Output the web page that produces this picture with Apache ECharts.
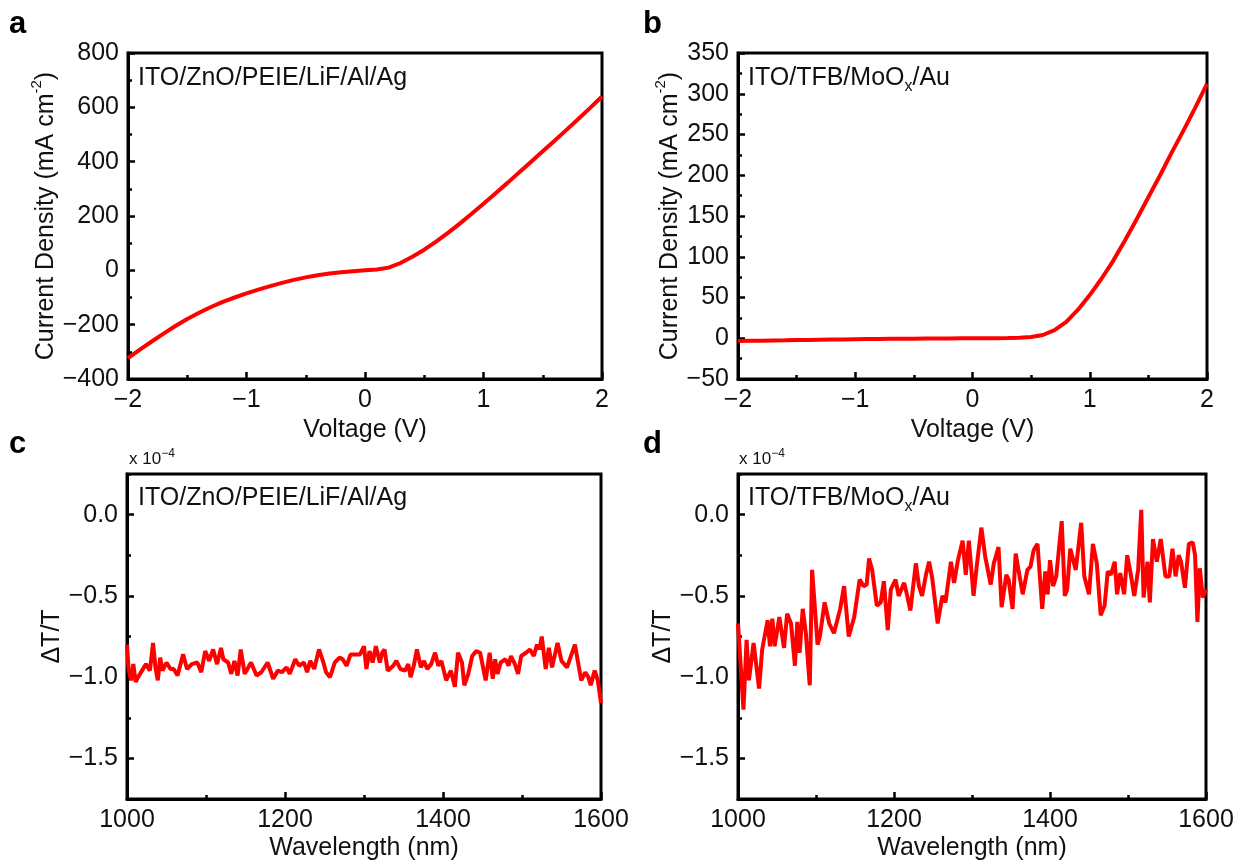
<!DOCTYPE html>
<html>
<head>
<meta charset="utf-8">
<script src="https://cdn.jsdelivr.net/npm/echarts@6/dist/echarts.min.js"></script>
<style>
html,body{margin:0;padding:0;background:#fff;}
#chart{width:1244px;height:866px;}
</style>
</head>
<body>
<div id="chart"></div>
<script>
// ---------- DATA ----------
// Panel a: ITO/ZnO/PEIE/LiF/Al/Ag  J-V
const voltageA = [-2.0,-1.9,-1.8,-1.7,-1.6,-1.5,-1.4,-1.3,-1.2,-1.1,-1.0,-0.9,-0.8,-0.7,-0.6,-0.5,-0.4,-0.3,-0.2,-0.1,0.0,0.1,0.2,0.3,0.4,0.5,0.6,0.7,0.8,0.9,1.0,1.1,1.2,1.3,1.4,1.5,1.6,1.7,1.8,1.9,2.0];
const currentA = [-323,-292,-262,-233,-205,-179,-156,-135,-116,-100,-85,-71,-58,-46,-35,-26,-18,-12,-7,-3,0,3,10,27,50,76,106,138,172,208,245,283,321,360,399,438,477,517,557,598,640];

// Panel b: ITO/TFB/MoOx/Au  J-V
const voltageB = [-2.0,-1.9,-1.8,-1.7,-1.6,-1.5,-1.4,-1.3,-1.2,-1.1,-1.0,-0.9,-0.8,-0.7,-0.6,-0.5,-0.4,-0.3,-0.2,-0.1,0.0,0.1,0.2,0.3,0.4,0.5,0.6,0.7,0.8,0.9,1.0,1.1,1.2,1.3,1.4,1.5,1.6,1.7,1.8,1.9,2.0];
const currentB = [-3.5,-3.2,-3.0,-2.7,-2.5,-2.2,-2.0,-1.8,-1.6,-1.4,-1.2,-1.0,-0.9,-0.7,-0.6,-0.5,-0.4,-0.3,-0.2,-0.1,0.0,0.05,0.1,0.2,0.5,1.5,4,10,20,35,53,73,95,120,146,173,200,228,255,283,312];

// Panel c: dT/T spectrum (x 1e-4), ITO/ZnO/PEIE/LiF/Al/Ag
const wavelengthC = [1000,1002,1005,1008,1011,1014,1019,1024,1029,1033,1036,1039,1042,1045,1050,1055,1059,1064,1071,1076,1082,1089,1094,1099,1104,1109,1114,1119,1122,1128,1132,1136,1140,1144,1149,1157,1164,1170,1178,1185,1191,1196,1202,1206,1213,1218,1224,1228,1232,1237,1243,1248,1252,1257,1263,1269,1273,1278,1283,1288,1295,1300,
  1303,1307,1311,1315,1320,1323,1326,1330,1337,1341,1346,1352,1356,1359,1363,1367,1372,1376,1380,1385,1390,1394,1398,1404,1410,1415,1419,1424,1427,1432,1437,1442,1447,1454,1459,1463,1466,1469,1473,1479,1483,1486,1491,1495,1499,1505,1510,1515,1519,1522,1525,1530,1534,1538,1545,1550,1557,1567,1575,1580,1584,1587,1592,1596,1600];
const deltaC = [-0.80,-0.95,-1.02,-0.92,-1.03,-1.00,-0.96,-0.92,-0.96,-0.79,-0.94,-1.02,-0.88,-0.96,-0.91,-0.95,-0.95,-0.99,-0.86,-0.95,-0.92,-0.91,-0.97,-0.84,-0.90,-0.83,-0.92,-0.82,-0.89,-0.91,-0.98,-0.90,-0.99,-0.83,-0.98,-0.91,-0.99,-0.97,-0.91,-1.01,-0.96,-0.97,-0.94,-0.98,-0.89,-0.93,-0.91,-0.97,-0.90,-0.95,-0.83,-0.90,-0.97,-1.00,-0.91,-0.88,-0.89,-0.93,-0.86,-0.86,-0.86,-0.81,
  -0.95,-0.84,-0.91,-0.81,-0.91,-0.85,-0.83,-0.96,-0.93,-0.90,-0.95,-0.96,-0.92,-1.00,-0.93,-0.83,-0.94,-0.90,-0.95,-0.92,-0.85,-0.93,-0.90,-1.02,-0.96,-1.06,-0.85,-0.91,-1.05,-0.98,-0.87,-0.84,-0.85,-1.02,-0.85,-1.01,-0.89,-0.98,-0.91,-0.89,-0.93,-0.87,-0.92,-0.98,-0.87,-0.85,-0.83,-0.87,-0.80,-0.83,-0.75,-0.95,-0.82,-0.94,-0.79,-0.90,-0.94,-0.80,-1.02,-0.97,-1.00,-1.05,-0.96,-1.02,-1.16];

// Panel d: dT/T spectrum (x 1e-4), ITO/TFB/MoOx/Au
const wavelengthD = [1000,1007,1011,1014,1020,1027,1031,1038,1041,1044,1047,1053,1059,1063,1068,1073,1076,1079,1083,1087,1092,1095,1102,1105,1111,1117,1123,1131,1136,1142,1149,1156,1161,1165,1168,1172,1178,1183,1187,1192,1196,1202,1206,1213,1217,1221,1228,1232,1236,1241,1245,1249,1256,1262,1266,1273,1277,1282,1288,1292,1296,1302,
  1306,1312,1317,1324,1328,1334,1338,1344,1347,1352,1356,1365,1371,1375,1379,1384,1390,1394,1397,1400,1404,1408,1415,1419,1422,1426,1433,1440,1444,1450,1455,1460,1465,1470,1474,1478,1483,1486,1490,1495,1499,1504,1508,1513,1517,1520,1525,1528,1532,1537,1542,1548,1553,1557,1561,1565,1568,1573,1578,1583,1586,1589,1592,1596,1600];
const deltaD = [-0.67,-1.20,-0.77,-1.02,-0.79,-1.07,-0.83,-0.65,-0.81,-0.64,-0.81,-0.63,-0.82,-0.61,-0.67,-0.93,-0.66,-0.85,-0.58,-0.73,-1.05,-0.34,-0.80,-0.75,-0.54,-0.67,-0.73,-0.58,-0.44,-0.75,-0.63,-0.40,-0.44,-0.43,-0.27,-0.34,-0.56,-0.54,-0.41,-0.71,-0.46,-0.40,-0.50,-0.42,-0.50,-0.59,-0.30,-0.44,-0.50,-0.37,-0.29,-0.39,-0.67,-0.50,-0.54,-0.29,-0.42,-0.28,-0.16,-0.37,-0.16,-0.50,
  -0.32,-0.08,-0.26,-0.43,-0.30,-0.20,-0.57,-0.37,-0.40,-0.58,-0.24,-0.49,-0.34,-0.32,-0.22,-0.18,-0.58,-0.35,-0.49,-0.28,-0.44,-0.38,-0.04,-0.50,-0.46,-0.21,-0.34,-0.05,-0.38,-0.49,-0.18,-0.30,-0.62,-0.56,-0.35,-0.37,-0.29,-0.49,-0.36,-0.49,-0.25,-0.38,-0.50,-0.34,0.03,-0.51,-0.29,-0.54,-0.15,-0.29,-0.15,-0.38,-0.38,-0.21,-0.38,-0.25,-0.29,-0.45,-0.18,-0.17,-0.25,-0.66,-0.33,-0.51,-0.46];

// Tick values
const majorTicksCD = [-1.5, -1.0, -0.5, 0.0];
const minorTicksCD = [-1.75, -1.25, -0.75, -0.25, 0.25];

// ---------- STYLE ----------
const FONT = '"Liberation Sans", Arial, Helvetica, sans-serif';
const FS = 25;
const TXT = '#111';
const RED = '#ff0000';
const minus = s => String(s).replace('-', '\u2212');

function pairs(xs, ys) { return xs.map((x, i) => [x, ys[i]]); }

const grids = [
  {left: 128, top: 53, width: 474, height: 326},
  {left: 738, top: 53, width: 469, height: 326},
  {left: 127, top: 474, width: 474, height: 325},
  {left: 738, top: 474, width: 468, height: 325}
].map(g => Object.assign({show: true, borderColor: '#000', borderWidth: 3, backgroundColor: 'transparent'}, g));

const nameStyle = {
  fontFamily: FONT, fontSize: FS, color: TXT,
  rich: {
    t: {fontFamily: FONT, fontSize: FS, color: TXT, lineHeight: 33},
    s: {fontFamily: FONT, fontSize: 15, color: TXT, lineHeight: 15, verticalAlign: 'top'}
  }
};

function xAxisCfg(gridIndex, min, max, interval, name, nameGap, fmt) {
  return {
    type: 'value', gridIndex, min, max, interval, name,
    nameLocation: 'middle', nameGap, nameTextStyle: nameStyle,
    axisLine: {show: true, onZero: false, lineStyle: {color: '#000', width: 3}},
    axisTick: {show: true, inside: true, length: 7, lineStyle: {color: '#000', width: 2.5}},
    minorTick: {show: true, splitNumber: 2, length: 4, lineStyle: {color: '#000', width: 2.5}},
    axisLabel: {fontFamily: FONT, fontSize: FS, color: TXT, margin: 9, formatter: fmt, hideOverlap: false},
    splitLine: {show: false}, minorSplitLine: {show: false}
  };
}

function yAxisCfg(gridIndex, min, max, interval, name, nameGap, fmt) {
  return {
    type: 'value', gridIndex, position: 'left', min, max, interval, name,
    nameLocation: 'middle', nameGap, nameTextStyle: nameStyle,
    axisLine: {show: true, onZero: false, lineStyle: {color: '#000', width: 3}},
    axisTick: {show: true, inside: true, length: 7, lineStyle: {color: '#000', width: 2.5}},
    minorTick: {show: true, splitNumber: 2, length: 4, lineStyle: {color: '#000', width: 2.5}},
    axisLabel: {fontFamily: FONT, fontSize: FS, color: TXT, margin: 9, formatter: fmt, hideOverlap: false},
    splitLine: {show: false}, minorSplitLine: {show: false}
  };
}

function dtMainAxis(gridIndex, nameGap) {
  return {
    type: 'value', gridIndex, position: 'left', min: -1.75, max: 0.25,
    name: 'ΔT/T', nameLocation: 'middle', nameGap, nameTextStyle: nameStyle,
    axisLine: {show: true, onZero: false, lineStyle: {color: '#000', width: 3}},
    axisTick: {show: true, inside: true, length: 7, customValues: majorTicksCD, lineStyle: {color: '#000', width: 2.5}},
    axisLabel: {fontFamily: FONT, fontSize: FS, color: TXT, margin: 9, customValues: majorTicksCD,
      formatter: v => minus(Number(v).toFixed(1)), hideOverlap: false},
    splitLine: {show: false}
  };
}
function dtMinorAxis(gridIndex) {
  return {
    type: 'value', gridIndex, position: 'left', min: -1.75, max: 0.25,
    axisLine: {show: false, onZero: false},
    axisTick: {show: true, inside: true, length: 4, customValues: minorTicksCD, lineStyle: {color: '#000', width: 2.5}},
    axisLabel: {show: false},
    splitLine: {show: false}
  };
}

const xAxes = [
  xAxisCfg(0, -2, 2, 1, 'Voltage (V)', 39, v => minus(v)),
  xAxisCfg(1, -2, 2, 1, 'Voltage (V)', 39, v => minus(v)),
  xAxisCfg(2, 1000, 1600, 200, 'Wavelength (nm)', 37, v => String(v)),
  xAxisCfg(3, 1000, 1600, 200, 'Wavelength (nm)', 37, v => String(v))
];

const yAxes = [
  yAxisCfg(0, -400, 800, 200, '{t|Current Density (mA cm}{s|-2}{t|)}', 65, v => minus(v)),
  yAxisCfg(1, -50, 350, 50, '{t|Current Density (mA cm}{s|-2}{t|)}', 51, v => minus(v)),
  dtMainAxis(2, 57),
  dtMinorAxis(2),
  dtMainAxis(3, 61),
  dtMinorAxis(3)
];

function lineSeries(xi, yi, data, width) {
  return {
    type: 'line', xAxisIndex: xi, yAxisIndex: yi, data,
    symbol: 'none', showSymbol: false, silent: true,
    lineStyle: {color: RED, width}, itemStyle: {color: RED},
    clip: true
  };
}

const series = [
  lineSeries(0, 0, pairs(voltageA, currentA), 4),
  lineSeries(1, 1, pairs(voltageB, currentB), 4),
  lineSeries(2, 2, pairs(wavelengthC, deltaC), 4),
  lineSeries(3, 4, pairs(wavelengthD, deltaD), 4)
];

const annRich = {
  a: {fontFamily: FONT, fontSize: FS, fill: TXT, color: TXT, lineHeight: 33},
  sub: {fontFamily: FONT, fontSize: 16, fill: TXT, color: TXT, lineHeight: 14, verticalAlign: 'bottom'},
  sup: {fontFamily: FONT, fontSize: 12, fill: TXT, color: TXT, lineHeight: 12, verticalAlign: 'top'},
  m: {fontFamily: FONT, fontSize: 17, fill: TXT, color: TXT, lineHeight: 22}
};

function txt(x, y, text, extra) {
  return {
    type: 'text', x, y, silent: true,
    style: Object.assign({text, fill: TXT, fontFamily: FONT, fontSize: FS, verticalAlign: 'middle', align: 'left', rich: annRich}, extra || {})
  };
}

const graphic = [
  txt(9, 24, 'a', {fontSize: 31, fontWeight: 'bold', fill: '#000'}),
  txt(643, 24, 'b', {fontSize: 31, fontWeight: 'bold', fill: '#000'}),
  txt(9, 444, 'c', {fontSize: 31, fontWeight: 'bold', fill: '#000'}),
  txt(643, 444, 'd', {fontSize: 31, fontWeight: 'bold', fill: '#000'}),
  txt(138, 78, '{a|ITO/ZnO/PEIE/LiF/Al/Ag}'),
  txt(748, 78, '{a|ITO/TFB/MoO}{sub|x}{a|/Au}'),
  txt(138, 498, '{a|ITO/ZnO/PEIE/LiF/Al/Ag}'),
  txt(748, 498, '{a|ITO/TFB/MoO}{sub|x}{a|/Au}'),
  txt(129, 459, '{m|x 10}{sup|\u22124}'),
  txt(739, 459, '{m|x 10}{sup|\u22124}')
];

const chart = echarts.init(document.getElementById('chart'), null, {renderer: 'canvas', width: 1244, height: 866});
chart.setOption({
  animation: false,
  backgroundColor: '#ffffff',
  grid: grids,
  xAxis: xAxes,
  yAxis: yAxes,
  series,
  graphic
});
</script>
</body>
</html>
